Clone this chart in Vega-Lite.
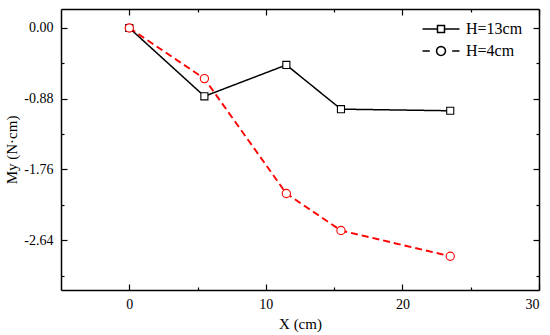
{
  "$schema": "https://vega.github.io/schema/vega-lite/v6.json",
  "width": 478,
  "height": 281,
  "autosize": {"type": "none"},
  "padding": {"left": 61, "top": 9, "right": 11, "bottom": 45},
  "background": "white",
  "data": {
    "values": [
      {"series": "H=13cm", "x": 0, "y": 0},
      {"series": "H=13cm", "x": 5.5, "y": -0.85},
      {"series": "H=13cm", "x": 11.5, "y": -0.46},
      {"series": "H=13cm", "x": 15.5, "y": -1.01},
      {"series": "H=13cm", "x": 23.5, "y": -1.03},
      {"series": "H=4cm", "x": 0, "y": 0},
      {"series": "H=4cm", "x": 5.5, "y": -0.63},
      {"series": "H=4cm", "x": 11.5, "y": -2.06},
      {"series": "H=4cm", "x": 15.5, "y": -2.52},
      {"series": "H=4cm", "x": 23.5, "y": -2.84}
    ]
  },
  "config": {
    "view": {"stroke": null},
    "font": "Liberation Serif",
    "axis": {
      "grid": false,
      "labelFont": "Liberation Serif",
      "labelFontSize": 14,
      "labelColor": "black",
      "titleFont": "Liberation Serif",
      "titleFontSize": 15,
      "titleFontWeight": "normal",
      "titleColor": "black",
      "domainColor": "black",
      "domainWidth": 1.5,
      "tickColor": "black",
      "tickWidth": 1.2
    },
    "legend": {
      "labelFont": "Liberation Serif",
      "labelFontSize": 16,
      "labelColor": "black"
    }
  },
  "resolve": {
    "axis": {"x": "independent", "y": "independent"},
    "scale": {"shape": "independent"}
  },
  "layer": [
    {
      "mark": {"type": "line"},
      "encoding": {
        "x": {
          "field": "x", "type": "quantitative",
          "scale": {"domain": [-5, 30], "nice": false, "zero": false},
          "axis": {
            "orient": "bottom", "title": "X (cm)",
            "values": [0, 5, 10, 15, 20, 25, 30],
            "tickSize": {"condition": {"test": "datum.value % 10 === 0", "value": -6}, "value": -3},
            "labelExpr": "datum.value % 10 === 0 ? datum.label : ''",
            "labelPadding": 13,
            "titlePadding": 5
          }
        },
        "y": {
          "field": "y", "type": "quantitative",
          "scale": {"domain": [-3.26, 0.236], "nice": false, "zero": false},
          "axis": {
            "orient": "left", "title": "My (N·cm)",
            "values": [0, -0.44, -0.88, -1.32, -1.76, -2.2, -2.64, -3.08],
            "tickSize": {"condition": {"test": "abs(datum.value / 0.88 - round(datum.value / 0.88)) < 0.01", "value": -6}, "value": -3},
            "labelExpr": "abs(datum.value / 0.88 - round(datum.value / 0.88)) < 0.01 ? replace(format(datum.value, '.2f'), '\u2212', '-') : ''",
            "labelPadding": 14,
            "titlePadding": 4
          }
        },
        "stroke": {
          "field": "series", "type": "nominal",
          "scale": {"domain": ["H=13cm", "H=4cm"], "range": ["black", "#ff0000"]},
          "legend": null
        },
        "strokeWidth": {
          "field": "series", "type": "nominal",
          "scale": {"domain": ["H=13cm", "H=4cm"], "range": [1.5, 1.9]},
          "legend": null
        },
        "strokeDash": {
          "field": "series", "type": "nominal",
          "scale": {"domain": ["H=13cm", "H=4cm"], "range": [[1, 0], [7, 4]]},
          "legend": null
        },
        "order": {"field": "x", "type": "quantitative"}
      }
    },
    {
      "mark": {"type": "point", "filled": true, "fill": "white", "strokeWidth": 1.1, "opacity": 1},
      "encoding": {
        "x": {
          "field": "x", "type": "quantitative",
          "scale": {"domain": [-5, 30], "nice": false, "zero": false},
          "axis": {
            "orient": "top", "title": null, "labels": false,
            "values": [0, 5, 10, 15, 20, 25, 30],
            "tickSize": {"condition": {"test": "datum.value % 10 === 0", "value": -6}, "value": -3}
          }
        },
        "y": {
          "field": "y", "type": "quantitative",
          "scale": {"domain": [-3.26, 0.236], "nice": false, "zero": false},
          "axis": {
            "orient": "right", "title": null, "labels": false,
            "values": [0, -0.44, -0.88, -1.32, -1.76, -2.2, -2.64, -3.08],
            "tickSize": {"condition": {"test": "abs(datum.value / 0.88 - round(datum.value / 0.88)) < 0.01", "value": -6}, "value": -3}
          }
        },
        "stroke": {
          "field": "series", "type": "nominal",
          "scale": {"domain": ["H=13cm", "H=4cm"], "range": ["black", "#ff0000"]},
          "legend": null
        },
        "shape": {
          "field": "series", "type": "nominal",
          "scale": {"domain": ["H=13cm", "H=4cm"], "range": ["square", "circle"]},
          "legend": null
        },
        "size": {"field": "series", "type": "nominal", "scale": {"domain": ["H=13cm", "H=4cm"], "range": [50, 68]}, "legend": null}
      }
    },
    {
      "mark": {"type": "point", "filled": false, "strokeWidth": 1.5, "opacity": 0, "size": 196},
      "encoding": {
        "stroke": {
          "field": "series", "type": "nominal",
          "scale": {"domain": ["H=13cm", "H=4cm"], "range": ["black", "#ff0000"]},
          "legend": {
            "title": null,
            "orient": "none",
            "legendX": 360,
            "legendY": 12,
            "padding": 0,
            "symbolOffset": 12,
            "labelOffset": 17,
            "rowPadding": 6,
            "symbolSize": 196,
            "symbolStrokeWidth": 1.5,
            "symbolStrokeColor": "black",
            "symbolOpacity": 1
          }
        },
        "shape": {
          "field": "series", "type": "nominal",
          "scale": {
            "domain": ["H=13cm", "H=4cm"],
            "range": [
              "M-2.64,0L-0.5,0M0.5,0L2.64,0M-0.5,-0.5L0.5,-0.5L0.5,0.5L-0.5,0.5Z",
              "M-2.64,0L-1.6,0M1.6,0L2.64,0M0.64,0L0.591,0.245L0.453,0.453L0.245,0.591L0,0.64L-0.245,0.591L-0.453,0.453L-0.591,0.245L-0.64,0L-0.591,-0.245L-0.453,-0.453L-0.245,-0.591L0,-0.64L0.245,-0.591L0.453,-0.453L0.591,-0.245Z"
            ]
          },
          "legend": {
            "title": null,
            "orient": "none",
            "legendX": 360,
            "legendY": 12,
            "padding": 0,
            "symbolOffset": 12,
            "labelOffset": 17,
            "rowPadding": 6,
            "symbolSize": 196,
            "symbolStrokeWidth": 1.5,
            "symbolStrokeColor": "black",
            "symbolOpacity": 1
          }
        }
      }
    }
  ]
}
